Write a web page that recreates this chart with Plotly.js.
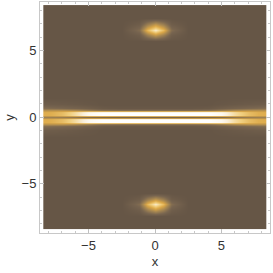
<!DOCTYPE html>
<html>
<head>
<meta charset="utf-8">
<script src="https://cdn.plot.ly/plotly-3.0.1.min.js"></script>
<style>html,body{margin:0;padding:0;background:#fff;}#chart{width:273px;height:273px;}</style>
</head>
<body>
<div id="chart"></div>
<script>
// grid coordinates (cell centres)
const xs = [-8.2, -7.8, -7, -6, -5, -4, -2.5, -1.2, -0.6, 0, 0.6, 1.2, 2.5, 4, 5, 6, 7, 7.8, 8.2];
const ys = [-8.2, -7.8, -7.4, -6.95, -6.55, -6.15, -5.7, -5, -1.5, -0.95, -0.68, -0.52, -0.38, -0.17, 0, 0.17, 0.38, 0.52, 0.68, 0.95, 1.5, 5, 5.7, 6.15, 6.55, 6.95, 7.4, 7.8, 8.2];

// intensity rows
const zeroRow    = [0,0,0,0,0,0,0,0,0,0,0,0,0,0,0,0,0,0,0];
const spotSide   = [0,0,0,0,0,0,0,0.08,0.3,0.45,0.3,0.08,0,0,0,0,0,0,0];
const spotPeak   = [0,0,0,0,0,0,0,0.2,0.62,0.85,0.62,0.2,0,0,0,0,0,0,0];
const bandOuter  = [0.08,0.07,0.06,0.04,0.02,0,0,0,0,0,0,0,0,0,0.02,0.04,0.06,0.07,0.08];
const bandFringe = [0.2,0.19,0.17,0.14,0.1,0.05,0.03,0.03,0.03,0.03,0.03,0.03,0.03,0.05,0.1,0.14,0.17,0.19,0.2];
const bandShoulder = [0.42,0.42,0.42,0.38,0.3,0.22,0.2,0.2,0.2,0.2,0.2,0.2,0.2,0.22,0.3,0.38,0.42,0.42,0.42];
const bandPeak   = [0.57,0.58,0.64,0.78,0.95,1,1,1,1,1,1,1,1,1,0.95,0.78,0.64,0.58,0.57];
const centerLine = [0.3,0.3,0.28,0.22,0.12,0.06,0.04,0.04,0.04,0.04,0.04,0.04,0.04,0.06,0.12,0.22,0.28,0.3,0.3];

const z = [
  zeroRow, zeroRow, zeroRow, spotSide, spotPeak, spotSide, zeroRow, zeroRow,
  zeroRow, bandOuter, bandFringe, bandShoulder, bandPeak, bandPeak, centerLine, bandPeak, bandPeak, bandShoulder, bandFringe, bandOuter, zeroRow,
  zeroRow, zeroRow, spotSide, spotPeak, spotSide, zeroRow, zeroRow, zeroRow
];

const xTicks = [-5, 0, 5];
const yTicks = [-5, 0, 5];

const colorscale = [
  [0, '#665646'],
  [0.15, '#786550'],
  [0.35, '#a58652'],
  [0.55, '#dca847'],
  [0.72, '#f2d182'],
  [0.88, '#faf0dc'],
  [1, '#ffffff']
];

const axisCommon = {
  showline: true, linecolor: '#c8c8c8', linewidth: 1, mirror: 'ticks',
  ticks: 'inside', ticklen: 4, tickcolor: '#c0c0c0', tickwidth: 1,
  minor: {dtick: 1, ticks: 'inside', ticklen: 2, tickcolor: '#c8c8c8', showgrid: false},
  showgrid: false, zeroline: false,
  tickfont: {family: 'Liberation Sans, Arial, sans-serif', size: 13, color: '#333'},
  title: {font: {family: 'Liberation Sans, Arial, sans-serif', size: 13, color: '#333'}}
};

const layout = {
  width: 273, height: 273,
  margin: {l: 40, r: 3, t: 2, b: 40},
  paper_bgcolor: '#ffffff', plot_bgcolor: '#ffffff',
  showlegend: false,
  xaxis: Object.assign({}, axisCommon, {range: [-8.65, 8.65], tickvals: xTicks, ticktext: xTicks.map(v => v < 0 ? '\u2212' + Math.abs(v) : String(v)), title: {text: 'x', standoff: 5, font: axisCommon.title.font}}),
  yaxis: Object.assign({}, axisCommon, {range: [-8.7, 8.63], tickvals: yTicks, ticktext: yTicks.map(v => v < 0 ? '\u2212' + Math.abs(v) : String(v)), title: {text: 'y', standoff: 4, font: axisCommon.title.font}})
};

Plotly.newPlot('chart', [{
  type: 'heatmap', x: xs, y: ys, z: z,
  zmin: 0, zmax: 1, colorscale: colorscale, zsmooth: 'best',
  showscale: false, hoverinfo: 'skip'
}], layout, {staticPlot: true});
</script>
</body>
</html>
